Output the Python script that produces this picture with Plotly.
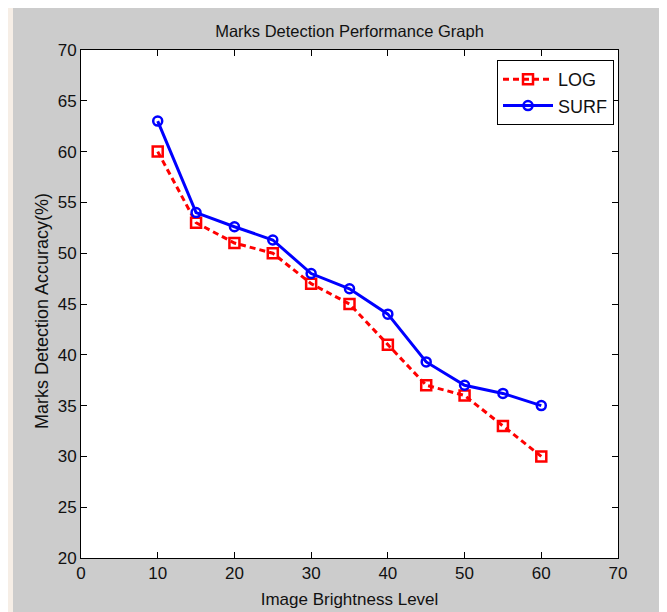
import plotly.graph_objects as go

brightness = [10, 15, 20, 25, 30, 35, 40, 45, 50, 55, 60]
log_acc = [60, 53, 51, 50, 47, 45, 41, 37, 36, 33, 30]
surf_acc = [63, 54, 52.6, 51.3, 48, 46.5, 44, 39.3, 37, 36.2, 35]

x_ticks = [0, 10, 20, 30, 40, 50, 60, 70]
y_ticks = [20, 25, 30, 35, 40, 45, 50, 55, 60, 65, 70]

FONT = "Liberation Sans, Arial, sans-serif"

fig = go.Figure()
fig.add_trace(go.Scatter(
    x=brightness, y=log_acc, name="LOG", mode="lines+markers",
    line=dict(color="#ff0000", width=3, dash="6px,4px"),
    marker=dict(symbol="square-open", size=10, color="#ff0000", line=dict(width=2.5, color="#ff0000")),
))
fig.add_trace(go.Scatter(
    x=brightness, y=surf_acc, name="SURF", mode="lines+markers",
    line=dict(color="#0000ff", width=3),
    marker=dict(symbol="circle-open", size=9, color="#0000ff", line=dict(width=2.5, color="#0000ff")),
))

# the page body adds an 8px offset; figure coordinates = screen - 8
OFF = 8
W, H = 667 - OFF, 612 - OFF
L, R, T, B = 81 - OFF, 618 - OFF, 50 - OFF, 558 - OFF
pw, ph = R - L, B - T

def px(xs):
    return (xs - OFF - L) / pw

def py(ys):
    return (B - (ys - OFF)) / ph

axis_common = dict(
    showgrid=False, zeroline=False, showline=True, linecolor="black", linewidth=1,
    mirror="ticks", ticks="inside", ticklen=6, tickcolor="black", tickwidth=1,
    tickfont=dict(family=FONT, size=17, color="#111111"), automargin=False,
)

fig.update_layout(
    template="none",
    width=W, height=H,
    margin=dict(l=L, r=W - R, t=T, b=H - B, pad=0),
    paper_bgcolor="#cccccc", plot_bgcolor="white",
    font=dict(family=FONT, color="#111111"),
    title=dict(text="Marks Detection Performance Graph", x=0.5, xref="paper",
               y=1 - (31 - OFF) / H, yref="container", yanchor="middle", xanchor="center",
               font=dict(family=FONT, size=16.5, color="#111111")),
    xaxis=dict(range=[0, 70], tickvals=x_ticks, **axis_common,
               title=dict(text="Image Brightness Level", font=dict(family=FONT, size=17, color="#111111"), standoff=10)),
    yaxis=dict(range=[20, 70], tickvals=y_ticks, **axis_common),
    legend=dict(x=px(497), y=py(60), xanchor="left", yanchor="top",
                bgcolor="white", bordercolor="black", borderwidth=1,
                font=dict(family=FONT, size=18, color="#111111"),
                tracegroupgap=0, itemwidth=50),
    showlegend=True,
)

fig.add_annotation(text="Marks Detection Accuracy(%)", textangle=-90,
                   xref="paper", yref="paper", x=px(42), y=py(311),
                   xanchor="center", yanchor="middle", showarrow=False,
                   font=dict(family=FONT, size=18, color="#111111"))

# outer page strips (outside the grey figure panel)
for (x0, x1, y0, y1, c) in [
    (0, 13, 0, 612, "#f6eee6"),
    (661, 667, 0, 612, "#ffffff"),
]:
    fig.add_shape(type="rect", xref="paper", yref="paper",
                  x0=px(x0), x1=px(x1), y0=py(y1), y1=py(y0),
                  fillcolor=c, line=dict(width=0), layer="above")

fig.write_html("out.html")
